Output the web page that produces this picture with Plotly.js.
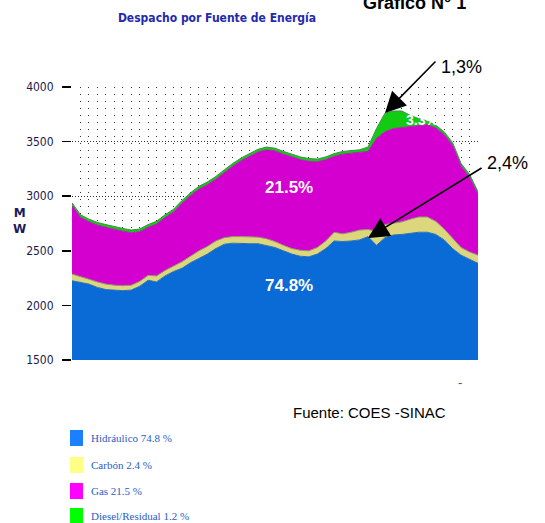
<!DOCTYPE html>
<html>
<head>
<meta charset="utf-8">
<script src="https://cdn.plot.ly/plotly-3.0.1.min.js"></script>
<style>html,body{margin:0;padding:0;background:#fff;}#chart{width:545px;height:523px;}</style>
</head>
<body>
<div id="chart"></div>
<script>
// half-hour intervals of the day
var intervalos = [0,1,2,3,4,5,6,7,8,9,10,11,12,13,14,15,16,17,18,19,20,21,22,23,24,25,26,27,28,29,30,31,32,33,34,35,36,37,38,39,40,41,42,43,44,45,46,47,48];
// MW by source
var hidraulico = [2226,2210,2195,2165,2145,2140,2135,2140,2175,2230,2215,2270,2310,2340,2390,2430,2470,2520,2560,2570,2565,2565,2565,2550,2530,2500,2470,2450,2445,2470,2520,2590,2585,2590,2600,2630,2550,2620,2645,2650,2660,2670,2670,2650,2600,2520,2460,2420,2385];
var carbon = [61,50,45,50,50,45,45,45,45,45,55,50,50,60,60,70,70,70,60,60,65,65,60,60,55,50,50,55,55,60,70,80,70,80,90,65,130,120,105,115,130,140,140,120,100,90,70,70,75];
var gas = [628,545,525,520,520,510,500,480,455,440,475,485,495,535,555,565,565,565,595,645,695,735,780,815,830,835,840,830,820,785,745,695,730,725,710,715,850,850,870,865,850,840,845,855,865,855,745,685,555];
var diesel = [25,25,25,25,25,25,25,25,25,25,25,25,25,25,25,25,25,25,25,25,25,25,25,25,25,25,25,25,25,25,25,25,25,25,25,40,90,170,160,150,100,60,35,25,25,25,25,25,25];
var yTicks = [1500,2000,2500,3000,3500,4000];
var legendLabels = ['Hidráulico 74.8 %','Carbón 2.4 %','Gas 21.5 %','Diesel/Residual 1.2 %'];
var legendColors = ['#1a80ff','#ffff88','#ff00ff','#00ff00'];

var L = 72, R = 478, T = 87, B = 360, W = 545, H = 523;
function px(x){ return (x - L) / (R - L); }
function py(y){ return (B - y) / (B - T); }

var traces = [
  {x: intervalos, y: hidraulico, stackgroup: 's', fillcolor: '#0a6ad6', line: {color: '#2a70b8', width: 1}, mode: 'lines', hoverinfo: 'skip'},
  {x: intervalos, y: carbon, stackgroup: 's', fillcolor: '#dcd67c', line: {color: '#8c9a6a', width: 1}, mode: 'lines', hoverinfo: 'skip'},
  {x: intervalos, y: gas, stackgroup: 's', fillcolor: '#d400cf', line: {color: '#b020b0', width: 1}, mode: 'lines', hoverinfo: 'skip'},
  {x: intervalos, y: diesel, stackgroup: 's', fillcolor: '#12cc12', line: {color: '#3f8f4a', width: 1}, mode: 'lines', hoverinfo: 'skip'}
];

function txt(x, y, text, font, xanchor) {
  return {xref: 'paper', yref: 'paper', x: px(x), y: py(y), xanchor: xanchor || 'center', yanchor: 'middle', text: text, showarrow: false, font: font};
}

var shapes = [];
var annotations = [];
for (var i = 0; i < legendLabels.length; i++) {
  var cy = [438, 465, 491, 516][i];
  shapes.push({type: 'rect', xref: 'paper', yref: 'paper', x0: px(70), x1: px(83), y0: py(cy + 8), y1: py(cy - 8), fillcolor: legendColors[i], line: {width: 0}});
  annotations.push(txt(89, cy, legendLabels[i], {family: 'Liberation Serif', size: 11, color: '#2a5cc8'}, 'left'));
}
annotations.push(
  txt(289, 187, '<b>21.5%</b>', {family: 'Liberation Sans', size: 17, color: '#ffffff'}),
  txt(289, 285, '<b>74.8%</b>', {family: 'Liberation Sans', size: 17, color: '#ffffff'}),
  txt(422, 120, '<b>3.3%</b>', {family: 'Liberation Sans', size: 14, color: '#ffffff'}),
  txt(461, 67, '1,3%', {family: 'Liberation Sans', size: 18, color: '#000000'}),
  txt(507, 163, '2,4%', {family: 'Liberation Sans', size: 18, color: '#000000'}),
  {xref: 'x', yref: 'y', x: 37.0, y: 3762, ax: 52, ay: -53, text: '', showarrow: true, arrowhead: 2, arrowsize: 2.6, arrowwidth: 1.6, arrowcolor: '#000000'},
  {xref: 'x', yref: 'y', x: 35.0, y: 2617, ax: 115, ay: -71, text: '', showarrow: true, arrowhead: 2, arrowsize: 2.6, arrowwidth: 1.6, arrowcolor: '#000000'},
  txt(20, 221, '<b>M<br>W</b>', {family: 'DejaVu Sans', size: 12, color: '#1a1a60'}),
  txt(369, 412, 'Fuente: COES -SINAC', {family: 'Liberation Sans', size: 15, color: '#000000'}),
  txt(460, 382, '-', {family: 'Liberation Sans', size: 13, color: '#555555'}),
  txt(414, 3, '<b>Gráfico N° 1</b>', {family: 'Liberation Sans', size: 18, color: '#000000'})
);

var layout = {
  width: W, height: H,
  margin: {l: L, r: W - R, t: T, b: H - B, pad: 0},
  paper_bgcolor: '#ffffff', plot_bgcolor: '#ffffff',
  showlegend: false,
  title: {text: 'Despacho por Fuente de Energía', x: 217 / W, xanchor: 'center', y: 1 - 18 / H, yanchor: 'middle', xref: 'container', yref: 'container', font: {family: 'DejaVu Sans Condensed', size: 12, color: '#1f2aae', weight: 'bold'}},
  xaxis: {range: [0, 48], showticklabels: false, ticks: '', dtick: 1, tick0: 0, showgrid: true, gridcolor: '#333333', griddash: '1px,6px', gridwidth: 1, zeroline: false, showline: false, fixedrange: true},
  yaxis: {range: [1500, 4000], tickvals: yTicks, ticks: 'outside', ticklen: 9, tickcolor: '#000000', tickwidth: 1.5, ticklabelstandoff: 6, tickfont: {family: 'DejaVu Sans Condensed', size: 12, color: '#1a1a50'}, showgrid: true, gridcolor: '#333333', griddash: '1px,2px', gridwidth: 1, zeroline: false, showline: false, fixedrange: true},
  shapes: shapes,
  annotations: annotations
};

Plotly.newPlot('chart', traces, layout, {displayModeBar: false, staticPlot: true});
</script>
</body>
</html>
